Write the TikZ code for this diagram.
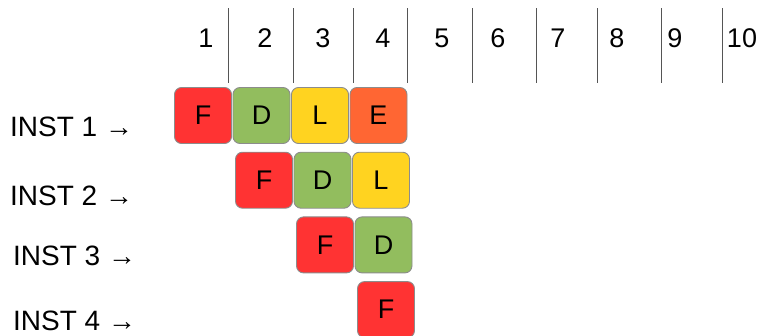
\documentclass[tikz,border=0pt]{standalone}
\usepackage{fontspec}
\setmainfont{Liberation Sans}
\usetikzlibrary{positioning}
\definecolor{stF}{HTML}{FF3333}
\definecolor{stD}{HTML}{92BD5E}
\definecolor{stL}{HTML}{FFD320}
\definecolor{stE}{HTML}{FF6633}
\definecolor{boxgrey}{HTML}{8C8C8C}
\definecolor{tickgrey}{HTML}{555555}
\begin{document}
\begin{tikzpicture}[x=1pt,y=-1pt,
      stagebox/.style={draw=boxgrey,line width=0.9pt,rounded corners=7pt,minimum width=57pt,minimum height=56pt,inner sep=0pt,font=\fontsize{27}{30}\selectfont},
      cyc/.style={font=\fontsize{27}{30}\selectfont,inner sep=0pt},
      lbl/.style={font=\fontsize{28}{30}\selectfont,inner sep=0pt,anchor=base west}]
    \useasboundingbox (0,0) rectangle (761,335);
    % clock cycles along the top
    \foreach \n/\x in {1/206,2/265,3/323,4/383,5/442,6/498,7/558,8/617,9/675,10/742} {
      \node[cyc,anchor=base] (c\n) at (\x,47) {\n};
    }
    \foreach \x in {228,293,353,407,472,536,597,661,722} {
      \draw[tickgrey,line width=0.9pt] (\x,8) -- (\x,83);
    }
    % pipeline stages of each instruction
    \foreach \r/\stages in {1/{F,D,L,E},2/{F,D,L},3/{F,D},4/{F}} {
      \foreach \s [count=\k from 0] in \stages {
        \node[stagebox,fill=st\s] (b\r\s) at ({203+61*(\r-1)+58.5*\k},{115.5+64.7*(\r-1)}) {\s};
      }
    }
    \foreach \r/\x/\y in {1/10/136,2/10/205,3/13/265,4/13/330} {
      \node[lbl] (inst\r) at (\x,\y) {INST \r\ →};
    }
  \end{tikzpicture}
\end{document}
